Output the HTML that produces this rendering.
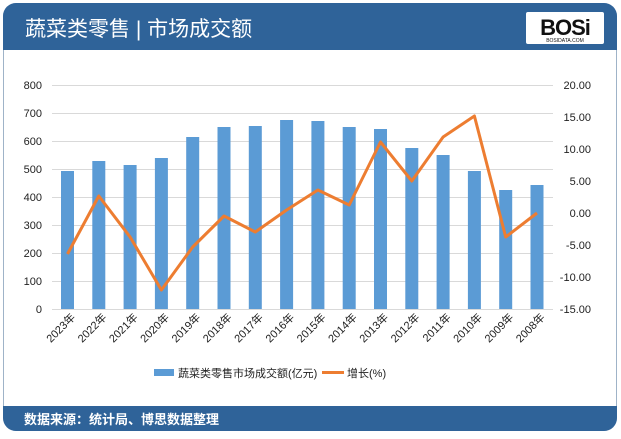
<!DOCTYPE html>
<html><head><meta charset="utf-8"><style>
body{margin:0;width:621px;height:434px;background:#fff;overflow:hidden;font-family:"Liberation Sans","Noto Sans CJK SC",sans-serif}
</style></head><body>
<svg width="621" height="434" xmlns="http://www.w3.org/2000/svg" font-family="Liberation Sans, Noto Sans CJK SC, sans-serif">
<rect x="3.5" y="3.5" width="613" height="427" rx="13" fill="#fff" stroke="#9fb3c8"/>
<path d="M3 50 V16 A13 13 0 0 1 16 3 H604 A13 13 0 0 1 617 16 V50 Z" fill="#2f6399"/>
<path d="M3 406 H617 V418 A13 13 0 0 1 604 431 H16 A13 13 0 0 1 3 418 Z" fill="#2f6399"/>
<text x="25" y="36" font-size="21" fill="#fff">蔬菜类零售 | 市场成交额</text>
<text x="24" y="424" font-size="13" fill="#fff" font-weight="bold">数据来源：统计局、博思数据整理</text>
<rect x="526" y="12" width="78" height="32" fill="#fff" rx="2"/>
<text x="565" y="35" font-size="22" font-weight="bold" text-anchor="middle" fill="#111" letter-spacing="-1">BOSi</text>
<text x="565" y="42" font-size="5" text-anchor="middle" fill="#111">BOSIDATA.COM</text>
<g stroke="#d9d9d9" stroke-width="1">
<line x1="52" x2="553" y1="85.5" y2="85.5"/><line x1="52" x2="553" y1="113.5" y2="113.5"/>
<line x1="52" x2="553" y1="141.5" y2="141.5"/><line x1="52" x2="553" y1="169.5" y2="169.5"/>
<line x1="52" x2="553" y1="197.5" y2="197.5"/><line x1="52" x2="553" y1="225.5" y2="225.5"/>
<line x1="52" x2="553" y1="253.5" y2="253.5"/><line x1="52" x2="553" y1="281.5" y2="281.5"/>
<line x1="52" x2="553" y1="309.5" y2="309.5"/>
</g>
<g font-size="11" fill="#222" text-anchor="end">
<text x="42" y="89">800</text><text x="42" y="117">700</text><text x="42" y="145">600</text>
<text x="42" y="173">500</text><text x="42" y="201">400</text><text x="42" y="229">300</text>
<text x="42" y="257">200</text><text x="42" y="285">100</text><text x="42" y="313">0</text>
</g>
<g font-size="11" fill="#222" text-anchor="end">
<text x="591" y="89">20.00</text><text x="591" y="121">15.00</text><text x="591" y="153">10.00</text>
<text x="591" y="185">5.00</text><text x="591" y="217">0.00</text><text x="591" y="249">-5.00</text>
<text x="591" y="281">-10.00</text><text x="591" y="313">-15.00</text>
</g>
<g fill="#5b9bd5">
<rect x="61" y="171" width="13" height="138"/>
<rect x="92.3" y="161" width="13" height="148"/>
<rect x="123.6" y="165" width="13" height="144"/>
<rect x="154.9" y="158" width="13" height="151"/>
<rect x="186.2" y="137" width="13" height="172"/>
<rect x="217.5" y="127" width="13" height="182"/>
<rect x="248.8" y="126" width="13" height="183"/>
<rect x="280.1" y="120" width="13" height="189"/>
<rect x="311.4" y="121" width="13" height="188"/>
<rect x="342.7" y="127" width="13" height="182"/>
<rect x="374" y="129" width="13" height="180"/>
<rect x="405.3" y="148" width="13" height="161"/>
<rect x="436.6" y="155" width="13" height="154"/>
<rect x="467.9" y="171" width="13" height="138"/>
<rect x="499.2" y="190" width="13" height="119"/>
<rect x="530.5" y="185" width="13" height="124"/>
</g>
<polyline fill="none" stroke="#ed7d31" stroke-width="3" stroke-linejoin="round" points="67.5,254 98.8,196 130.1,237 161.4,290 192.7,247 224,216 255.3,232 286.6,210 317.9,190 349.2,205 380.5,142 411.8,181 443.1,137 474.4,116 505.7,237 537,213"/>
<g font-size="11" fill="#222" text-anchor="end">
<text transform="translate(76,318) rotate(-45)">2023年</text>
<text transform="translate(107.3,318) rotate(-45)">2022年</text>
<text transform="translate(138.6,318) rotate(-45)">2021年</text>
<text transform="translate(169.9,318) rotate(-45)">2020年</text>
<text transform="translate(201.2,318) rotate(-45)">2019年</text>
<text transform="translate(232.5,318) rotate(-45)">2018年</text>
<text transform="translate(263.8,318) rotate(-45)">2017年</text>
<text transform="translate(295.1,318) rotate(-45)">2016年</text>
<text transform="translate(326.4,318) rotate(-45)">2015年</text>
<text transform="translate(357.7,318) rotate(-45)">2014年</text>
<text transform="translate(389,318) rotate(-45)">2013年</text>
<text transform="translate(420.3,318) rotate(-45)">2012年</text>
<text transform="translate(451.6,318) rotate(-45)">2011年</text>
<text transform="translate(482.9,318) rotate(-45)">2010年</text>
<text transform="translate(514.2,318) rotate(-45)">2009年</text>
<text transform="translate(545.5,318) rotate(-45)">2008年</text>
</g>
<rect x="154" y="369" width="20" height="7" fill="#5b9bd5"/>
<text x="178" y="377" font-size="11" fill="#222">蔬菜类零售市场成交额(亿元)</text>
<line x1="322" x2="344" y1="372.5" y2="372.5" stroke="#ed7d31" stroke-width="3"/>
<text x="347" y="377" font-size="11" fill="#222">增长(%)</text>
</svg>
</body></html>
